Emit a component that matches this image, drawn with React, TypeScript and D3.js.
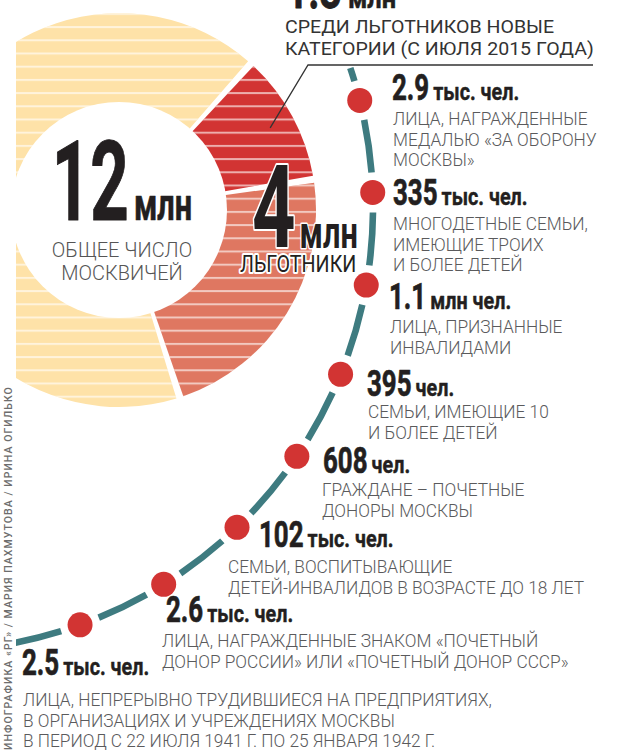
import { useEffect, useRef } from 'react';
import * as d3 from 'd3';

// Pie: Moscow population split, млн
const pieLabels = ['Новые категории (с июля 2015 года)', 'Прочие льготники', 'Остальные москвичи'];
const pieValues = [1.3, 2.7, 8.0];
const pieColors = ['#d23433', '#df7761', '#fee2a8'];

const totalValue = '12';
const totalCaption = ['ОБЩЕЕ ЧИСЛО', 'МОСКВИЧЕЙ'];
const benefitValue = '4';
const benefitCaption = 'ЛЬГОТНИКИ';
const newValue = '1.3';
const newCaption = ['СРЕДИ ЛЬГОТНИКОВ НОВЫЕ', 'КАТЕГОРИИ (С ИЮЛЯ 2015 ГОДА)'];

// Categories along the dashed arc
const categories = ['medal', 'large', 'disabled', 'ten', 'donorMsk', 'childDis', 'donorRu', 'worked'];
const values = ['2.9', '335', '1.1', '395', '608', '102', '2.6', '2.5'];
const units = ['тыс. чел.', 'тыс. чел.', 'млн чел.', 'чел.', 'чел.', 'тыс. чел.', 'тыс. чел.', 'тыс. чел.'];
const descriptions = [
  ['ЛИЦА, НАГРАЖДЕННЫЕ', 'МЕДАЛЬЮ «ЗА ОБОРОНУ', 'МОСКВЫ»'],
  ['МНОГОДЕТНЫЕ СЕМЬИ,', 'ИМЕЮЩИЕ ТРОИХ', 'И БОЛЕЕ ДЕТЕЙ'],
  ['ЛИЦА, ПРИЗНАННЫЕ', 'ИНВАЛИДАМИ'],
  ['СЕМЬИ, ИМЕЮЩИЕ 10', 'И БОЛЕЕ ДЕТЕЙ'],
  ['ГРАЖДАНЕ – ПОЧЕТНЫЕ', 'ДОНОРЫ МОСКВЫ'],
  ['СЕМЬИ, ВОСПИТЫВАЮЩИЕ', 'ДЕТЕЙ-ИНВАЛИДОВ В ВОЗРАСТЕ ДО 18 ЛЕТ'],
  ['ЛИЦА, НАГРАЖДЕННЫЕ ЗНАКОМ «ПОЧЕТНЫЙ', 'ДОНОР РОССИИ» ИЛИ «ПОЧЕТНЫЙ ДОНОР СССР»'],
  ['ЛИЦА, НЕПРЕРЫВНО ТРУДИВШИЕСЯ НА ПРЕДПРИЯТИЯХ,', 'В ОРГАНИЗАЦИЯХ И УЧРЕЖДЕНИЯХ МОСКВЫ', 'В ПЕРИОД С 22 ИЮЛЯ 1941 Г. ПО 25 ЯНВАРЯ 1942 Г.'],
];
const credit = 'ИНФОГРАФИКА «РГ» / МАРИЯ ПАХМУТОВА / ИРИНА ОГИЛЬКО';

// text layout of the label column
const labelX = [392, 393, 389, 367, 323, 259, 166, 22];
const labelY = [100, 205, 309, 396, 473, 547, 622, 675];
const descX = [393, 393, 390, 368, 322, 228, 162, 23];
const descY = [125, 230, 333, 418, 496, 573, 647, 706];

const FONT = 'Roboto, "DejaVu Sans", sans-serif';

export default function App() {
  const svgRef = useRef(null);

  useEffect(() => {
    const W = 631;
    const H = 756;
    const svg = d3.select(svgRef.current);
    svg.selectAll('*').remove();
    svg.attr('width', W).attr('height', H);

    const defs = svg.append('defs');
    defs.append('clipPath').attr('id', 'leftClip')
      .append('rect').attr('x', 16).attr('y', 0).attr('width', W).attr('height', H);

    const pat = defs.append('pattern')
      .attr('id', 'stripes')
      .attr('patternUnits', 'userSpaceOnUse')
      .attr('x', 0).attr('y', 0.9)
      .attr('width', W).attr('height', 13.2);
    pat.append('rect').attr('width', W).attr('height', 2).attr('fill', '#fff').attr('opacity', 0.6);

    // helper for condensed text (horizontal scale)
    const txt = (g, x, y, str, size, weight, fill, sx, anchor = 'start') => {
      const t = g.append('text')
        .attr('transform', `translate(${x},${y}) scale(${sx},1)`)
        .attr('font-family', FONT)
        .attr('font-size', size)
        .attr('font-weight', weight)
        .attr('fill', fill)
        .attr('text-anchor', anchor)
        .text(str);
      return t;
    };
    const width = (t, sx) => t.node().getComputedTextLength() * sx;
    const heavy = (t, w) => t.attr('stroke', '#231f20').attr('stroke-width', w).attr('stroke-linejoin', 'round');

    // ---------- Pie ----------
    const cx = 119;
    const cy = 210;
    const outerR = 197;
    const innerR = 108;
    const start = (42 * Math.PI) / 180;

    const pie = d3.pie().sort(null).startAngle(start).endAngle(start + 2 * Math.PI);
    const arcs = pie(pieValues);
    const arc = d3.arc().innerRadius(0).outerRadius(outerR).padAngle(0.036).padRadius(200);

    const pieClip = svg.append('g').attr('clip-path', 'url(#leftClip)');
    const pieG = pieClip.append('g').attr('transform', `translate(${cx},${cy})`);

    pieG.selectAll('path.slice')
      .data(arcs)
      .enter()
      .append('path')
      .attr('class', 'slice')
      .attr('d', arc)
      .attr('fill', (d, i) => pieColors[i])
      .append('title')
      .text((d, i) => `${pieLabels[i]}: ${pieValues[i]} млн`);

    pieG.selectAll('path.stripe')
      .data(arcs)
      .enter()
      .append('path')
      .attr('class', 'stripe')
      .attr('d', arc)
      .attr('transform', `translate(${-cx},${-cy}) translate(${cx},${cy})`)
      .attr('fill', 'url(#stripes)');

    pieG.append('circle').attr('r', innerR).attr('fill', '#fff');

    // centre text: 12 млн
    const topG = svg.append('g');
    const t12 = heavy(txt(topG, 0, 220, totalValue, 112, 700, '#231f20', 0.6), 1);
    const w12 = width(t12, 0.6);
    const tMln = heavy(txt(topG, 0, 220, 'млн', 44, 700, '#231f20', 0.7), 0.6);
    const wMln = width(tMln, 0.7);
    const x12 = cx + 3 - (w12 + 5 + wMln) / 2;
    t12.attr('transform', `translate(${x12},220) scale(0.6,1)`);
    tMln.attr('transform', `translate(${x12 + w12 + 5},220) scale(0.7,1)`);
    totalCaption.forEach((s, i) => {
      txt(topG, cx + 3, 257 + i * 23, s, 21, 300, '#555', 0.95, 'middle');
    });

    // 4 млн ЛЬГОТНИКИ with white halo
    const halo = (t, w) => t.attr('stroke', '#fff').attr('stroke-width', w).attr('paint-order', 'stroke').attr('stroke-linejoin', 'round');
    const t4 = halo(txt(topG, 252, 247, benefitValue, 115, 700, '#231f20', 0.66), 4);
    const w4 = width(t4, 0.66);
    halo(txt(topG, 252 + w4 + 4, 248, 'млн', 44, 700, '#231f20', 0.7), 3);
    halo(txt(topG, 240, 272, benefitCaption, 24, 400, '#231f20', 0.82), 4);

    // ---------- Dashed arc with dots ----------
    const acx = -70;
    const acy = 208;
    const R = 443;
    const deg = Math.PI / 180;
    const angle = d3.scalePoint().domain(categories).range([-14.05 * deg, 70.2 * deg]);
    const gap = 20 / R;
    const topA = Math.asin((68 - acy) / R);
    const endA = Math.acos((10 - acx) / R);

    const segs = [];
    segs.push([topA, angle(categories[0]) - gap]);
    for (let i = 0; i < categories.length - 1; i++) {
      segs.push([angle(categories[i]) + gap, angle(categories[i + 1]) - gap]);
    }
    segs.push([angle(categories[categories.length - 1]) + gap, endA]);

    const dash = d3.arc().innerRadius(R - 3.3).outerRadius(R + 3.3);
    const arcG = svg.append('g').attr('clip-path', 'url(#leftClip)');
    arcG.append('g')
      .attr('transform', `translate(${acx},${acy})`)
      .selectAll('path')
      .data(segs)
      .enter()
      .append('path')
      .attr('d', (s) => dash({ startAngle: s[0] + Math.PI / 2, endAngle: s[1] + Math.PI / 2 }))
      .attr('fill', '#3e7b80');

    arcG.selectAll('circle')
      .data(categories)
      .enter()
      .append('circle')
      .attr('cx', (c) => acx + R * Math.cos(angle(c)))
      .attr('cy', (c) => acy + R * Math.sin(angle(c)))
      .attr('r', 12.5)
      .attr('fill', '#d23433');

    // ---------- Leader + top caption ----------
    const leaderEnd = d3.arc().innerRadius(172).outerRadius(172).centroid(arcs[0]);
    svg.append('path')
      .attr('d', d3.line()([[593, 65], [308, 65], [cx + leaderEnd[0], cy + leaderEnd[1]]]))
      .attr('fill', 'none')
      .attr('stroke', '#333')
      .attr('stroke-width', 1.3);

    const capG = svg.append('g');
    const tNew = heavy(txt(capG, 286, 8, newValue, 54, 700, '#231f20', 0.72), 0.8);
    const wNew = width(tNew, 0.72);
    heavy(txt(capG, 286 + wNew + 6, 8, 'млн', 30, 700, '#231f20', 0.85), 0.5);
    newCaption.forEach((s, i) => {
      txt(capG, 285, 33 + i * 22, s, 19, 400, '#333', 1.03);
    });

    // ---------- Labels ----------
    const labG = svg.append('g');
    categories.forEach((c, i) => {
      const v = heavy(txt(labG, labelX[i], labelY[i], values[i], 37, 700, '#231f20', 0.7), 0.7);
      const wv = width(v, 0.7);
      heavy(txt(labG, labelX[i] + wv + 4, labelY[i], units[i], 23, 700, '#231f20', 0.86), 0.4);
      descriptions[i].forEach((line, j) => {
        txt(labG, descX[i], descY[i] + j * 20.5, line, 18, 300, '#5a5a5c', 0.96);
      });
    });

    // ---------- Credit ----------
    svg.append('text')
      .attr('transform', 'translate(12,750) rotate(-90)')
      .attr('font-family', FONT)
      .attr('font-size', 10.5)
      .attr('font-weight', 500)
      .attr('letter-spacing', 1.05)
      .attr('fill', '#6d6d6d')
      .text(credit);
  }, []);

  return (
    <svg
      ref={svgRef}
      style={{ position: 'absolute', left: 0, top: 0, display: 'block', background: '#fff' }}
    ></svg>
  );
}
